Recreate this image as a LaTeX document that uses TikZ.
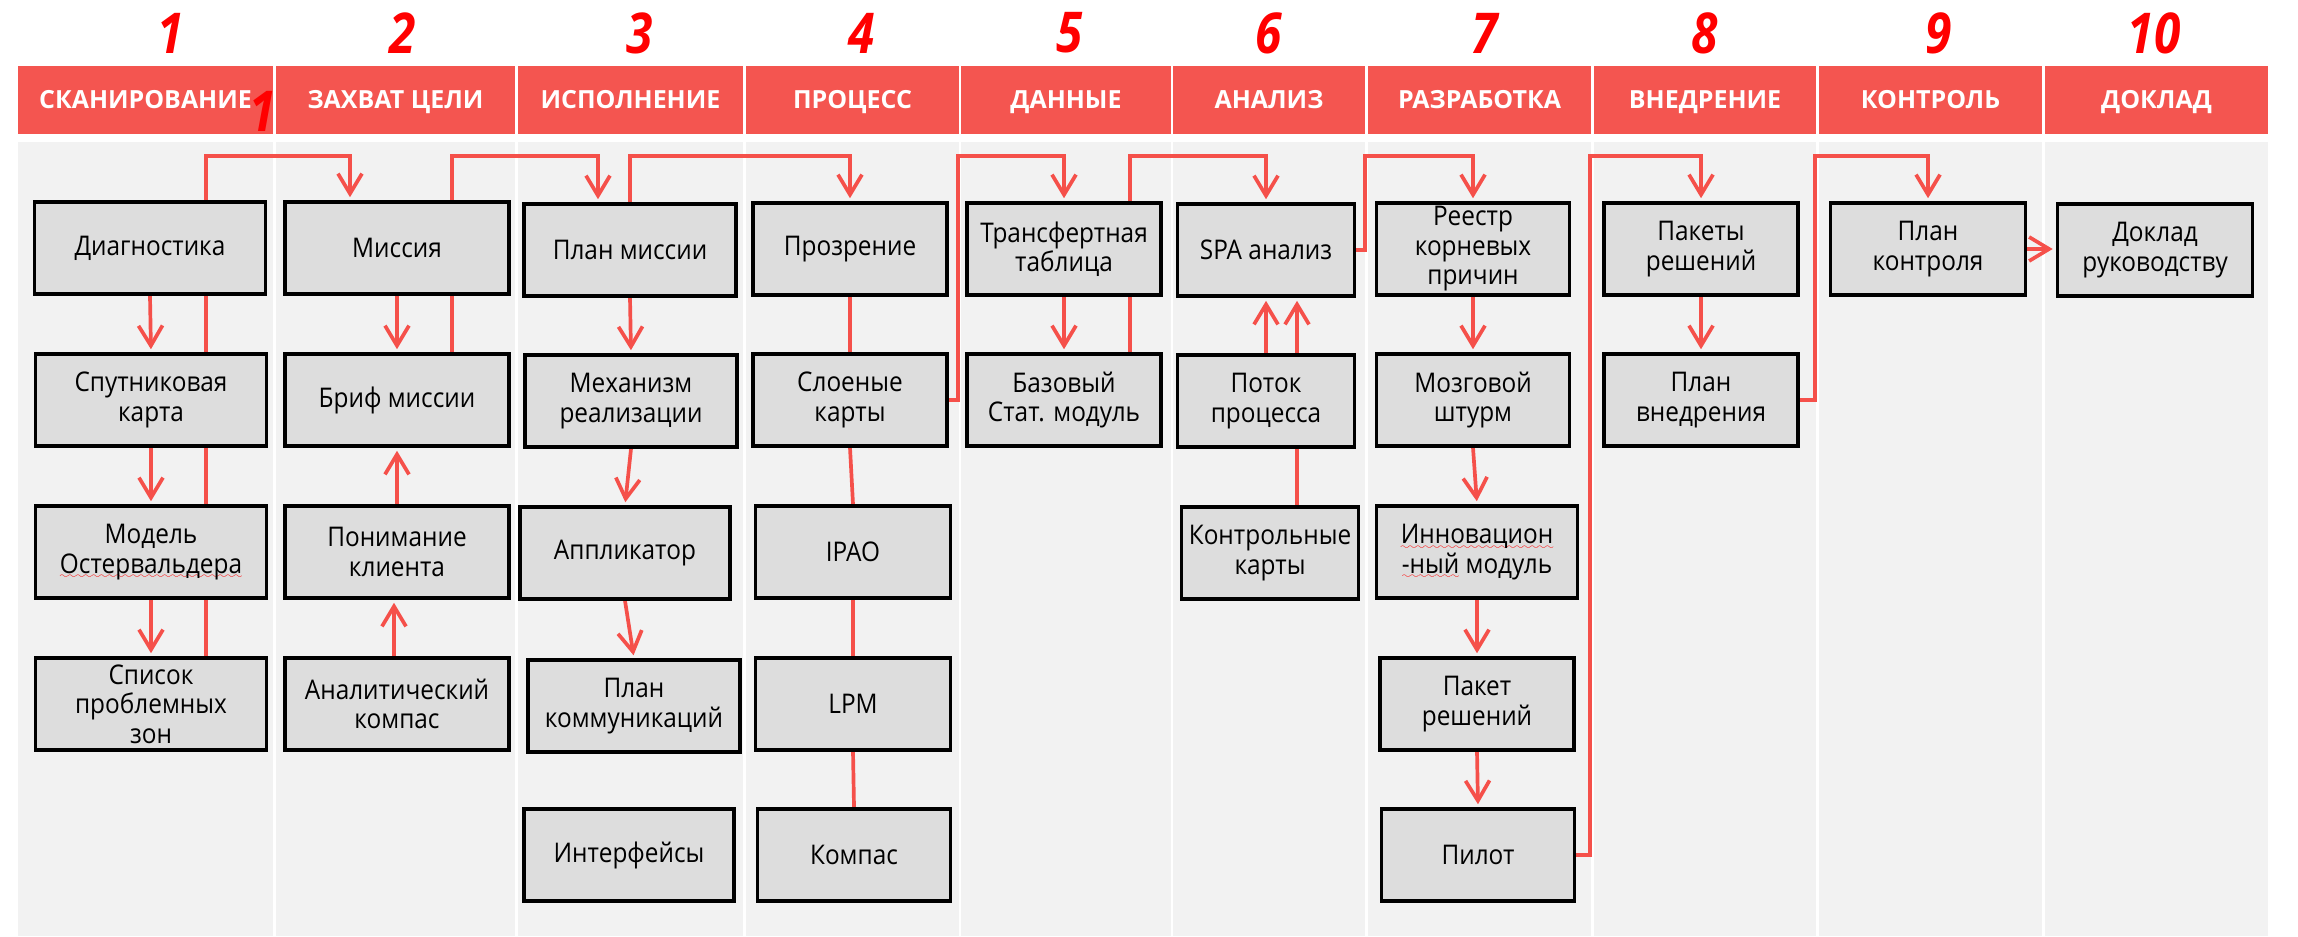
\documentclass[tikz,border=0pt]{standalone}
\usepackage{fontspec}
\setmainfont{Open Sans}
\newfontfamily\boxfont[FakeStretch=0.9]{Open Sans}
\newfontfamily\numfont[FakeStretch=0.85]{Open Sans}
\usepackage{tikz}
\usetikzlibrary{arrows.meta, calc}
\definecolor{headred}{RGB}{244,85,80}
\definecolor{linkred}{RGB}{245,80,74}
\definecolor{lanegrey}{RGB}{242,242,242}
\definecolor{boxgrey}{RGB}{221,221,221}
\font\wavefont=lasy6 at 2.6pt
\newsavebox\spellbox
\newcommand\spellerr[1]{\sbox\spellbox{#1}\rlap{\textcolor{red}{\lower1.6pt\hbox to\wd\spellbox{\xleaders\hbox{\wavefont\char58}\hfill}}}\usebox\spellbox}
\pgfdeclarelayer{back}
\pgfdeclarelayer{wires}
\pgfsetlayers{back,wires,main}

\begin{document}
\begin{tikzpicture}[x=0.01cm, y=-0.01cm,
    lane/.style={fill=lanegrey, minimum height=7.94cm, inner sep=0pt, outer sep=0pt},
    hdr/.style={fill=headred, minimum height=0.68cm, inner sep=0pt, outer sep=0pt,
        text=white, text height=5.1pt, text depth=0pt, font=\fontsize{7.1pt}{8pt}\selectfont\bfseries},
    num/.style={text=red, inner sep=0pt, font=\numfont\fontsize{16pt}{18pt}\selectfont\bfseries\itshape},
    box/.style={draw=black, line width=1pt, fill=boxgrey, minimum width=1.94cm, minimum height=0.92cm,
        align=center, inner sep=0.5pt, font=\boxfont\fontsize{7.7pt}{8.4pt}\selectfont},
    link/.style={draw=linkred, line width=1.05pt},
    arrow/.style={link, -{Straight Barb[length=0.2cm, width=0.24cm]}, shorten >=0.03cm}
]
\useasboundingbox (0,0) rectangle (2298,936);
% lanes
\begin{pgfonlayer}{back}
\node[lane, minimum width=2.55cm] (l1) at (145.5,539) {};
\node[lane, minimum width=2.39cm] (l2) at (395.5,539) {};
\node[lane, minimum width=2.25cm] (l3) at (630.5,539) {};
\node[lane, minimum width=2.13cm] (l4) at (852.5,539) {};
\node[lane, minimum width=2.10cm] (l5) at (1066,539) {};
\node[lane, minimum width=1.92cm] (l6) at (1269,539) {};
\node[lane, minimum width=2.23cm] (l7) at (1479.5,539) {};
\node[lane, minimum width=2.22cm] (l8) at (1705,539) {};
\node[lane, minimum width=2.23cm] (l9) at (1930.5,539) {};
\node[lane, minimum width=2.23cm] (l10) at (2156.5,539) {};
\end{pgfonlayer}
% step numbers
\node[num] (n1) at (171,33) {1};
\node[num] (n2) at (403,33) {2};
\node[num] (n3) at (640,33) {3};
\node[num] (n4) at (862,33) {4};
\node[num] (n5) at (1070,33) {5};
\node[num] (n6) at (1269,33) {6};
\node[num] (n7) at (1485,33) {7};
\node[num] (n8) at (1705,33) {8};
\node[num] (n9) at (1939,33) {9};
\node[num] (n10) at (2154,33) {10};
% header row
\node[hdr, minimum width=2.55cm] (h1) at (145.5,100) {СКАНИРОВАНИЕ};
\node[hdr, minimum width=2.39cm] (h2) at (395.5,100) {ЗАХВАТ ЦЕЛИ};
\node[hdr, minimum width=2.25cm] (h3) at (630.5,100) {ИСПОЛНЕНИЕ};
\node[hdr, minimum width=2.13cm] (h4) at (852.5,100) {ПРОЦЕСС};
\node[hdr, minimum width=2.10cm] (h5) at (1066,100) {ДАННЫЕ};
\node[hdr, minimum width=1.92cm] (h6) at (1269,100) {АНАЛИЗ};
\node[hdr, minimum width=2.23cm] (h7) at (1479.5,100) {РАЗРАБОТКА};
\node[hdr, minimum width=2.22cm] (h8) at (1705,100) {ВНЕДРЕНИЕ};
\node[hdr, minimum width=2.23cm] (h9) at (1930.5,100) {КОНТРОЛЬ};
\node[hdr, minimum width=2.23cm] (h10) at (2156.5,100) {ДОКЛАД};
\node[num] (n1b) at (263,111) {1};
% column 1
\node[box, minimum width=2.31cm] (diag) at (150,248) {Диагностика};
\node[box, minimum width=2.31cm] (sput) at (151,400) {Спутниковая\\карта};
\node[box, minimum width=2.31cm] (model) at (151,552) {Модель\\\spellerr{Остервальдера}};
\node[box, minimum width=2.31cm] (spisok) at (151,704) {Список\\проблемных\\зон};
% column 2
\node[box, minimum width=2.24cm] (missia) at (397,248) {Миссия};
\node[box, minimum width=2.24cm] (brif) at (397,400) {Бриф миссии};
\node[box, minimum width=2.24cm] (ponim) at (397,552) {Понимание\\клиента};
\node[box, minimum width=2.24cm] (analit) at (397,704) {Аналитический\\компас};
% column 3
\node[box, minimum width=2.12cm] (plan) at (630,250) {План миссии};
\node[box, minimum width=2.12cm] (mech) at (631,401) {Механизм\\реализации};
\node[box, minimum width=2.10cm] (appl) at (625,553) {Аппликатор};
\node[box, minimum width=2.12cm] (komm) at (634,706) {План\\коммуникаций};
\node[box, minimum width=2.10cm] (interf) at (629,855) {Интерфейсы};
% column 4
\node[box] (prozr) at (850,249) {Прозрение};
\node[box] (sloen) at (850,400) {Слоеные\\карты};
\node[box, minimum width=1.95cm] (ipao) at (853,552) {IPAO};
\node[box, minimum width=1.95cm] (lpm) at (853,704) {LPM};
\node[box, minimum width=1.93cm] (kompas) at (854,855) {Компас};
% column 5
\node[box] (transf) at (1064,249) {Трансфертная\\таблица};
\node[box] (bazov) at (1064,400) {Базовый\\Стат. модуль};
% column 6
\node[box, minimum width=1.77cm] (spa) at (1266,250) {SPA анализ};
\node[box, minimum width=1.77cm] (potok) at (1266,401) {Поток\\процесса};
\node[box, minimum width=1.77cm] (kontr) at (1270,553) {Контрольные\\карты};
% column 7
\node[box, minimum width=1.93cm] (reestr) at (1473,249) {Реестр\\корневых\\причин};
\node[box, minimum width=1.93cm] (mozg) at (1473,400) {Мозговой\\штурм};
\node[box, minimum width=2.01cm] (innov) at (1477,552) {\spellerr{Инновацион}\\\spellerr{-ный} модуль};
\node[box] (paket) at (1477,704) {Пакет\\решений};
\node[box, minimum width=1.93cm] (pilot) at (1478,855) {Пилот};
% column 8
\node[box] (pakety) at (1701,249) {Пакеты\\решений};
\node[box] (vnedr) at (1701,400) {План\\внедрения};
% column 9 and 10
\node[box, minimum width=1.95cm] (kplan) at (1928,249) {План\\контроля};
\node[box, minimum width=1.95cm] (doklad) at (2155,250) {Доклад\\руководству};
% connectors
\begin{pgfonlayer}{wires}
\coordinate (rail) at (0,156);
\foreach \a/\b in {diag/sput, sput/model, model/spisok} \draw[arrow] (\a.south) -- (\b.north);
\draw[arrow] ($(spisok.north)+(55,0)$) |- ($(missia.north |- rail)+(-47,0)$) -- ($(missia.north)+(-47,0)$);
\draw[arrow] (missia.south) -- (brif.north);
\draw[arrow] (ponim.north) -- (brif.south);
\draw[arrow] ($(analit.north)+(-3,0)$) -- ($(ponim.south)+(-3,0)$);
\draw[arrow] ($(brif.north)+(55,0)$) |- ($(plan.north |- rail)+(-32,0)$) -- ($(plan.north)+(-32,0)$);
\draw[arrow] (plan.north) |- (prozr.north |- rail) -- (prozr.north);
\foreach \a/\b in {plan/mech, mech/appl, appl/komm} \draw[arrow] (\a.south) -- (\b.north);
\foreach \a/\b in {prozr/sloen, sloen/ipao, ipao/lpm, lpm/kompas} \draw[link] (\a.south) -- (\b.north);
\draw[arrow] (sloen.east) -- ++(9,0) |- (transf.north |- rail) -- (transf.north);
\draw[arrow] (transf.south) -- (bazov.north);
\draw[arrow] ($(bazov.north)+(66,0)$) |- (spa.north |- rail) -- (spa.north);
\draw[arrow] (potok.north) -- (spa.south);
\draw[arrow] ($(kontr.north)+(27,0)$) -- ($(spa.south)+(31,0)$);
\draw[arrow] (spa.east) -- ++(9,0) |- (reestr.north |- rail) -- (reestr.north);
\foreach \a/\b in {reestr/mozg, mozg/innov, innov/paket, paket/pilot} \draw[arrow] (\a.south) -- (\b.north);
\draw[arrow] (pilot.east) -- ++(14,0) |- (pakety.north |- rail) -- (pakety.north);
\draw[arrow] (pakety.south) -- (vnedr.north);
\draw[arrow] (vnedr.east) -- ++(15,0) |- (kplan.north |- rail) -- (kplan.north);
\draw[arrow] (kplan.east) -- (kplan.east -| doklad.west);
\end{pgfonlayer}
\end{tikzpicture}
\end{document}
